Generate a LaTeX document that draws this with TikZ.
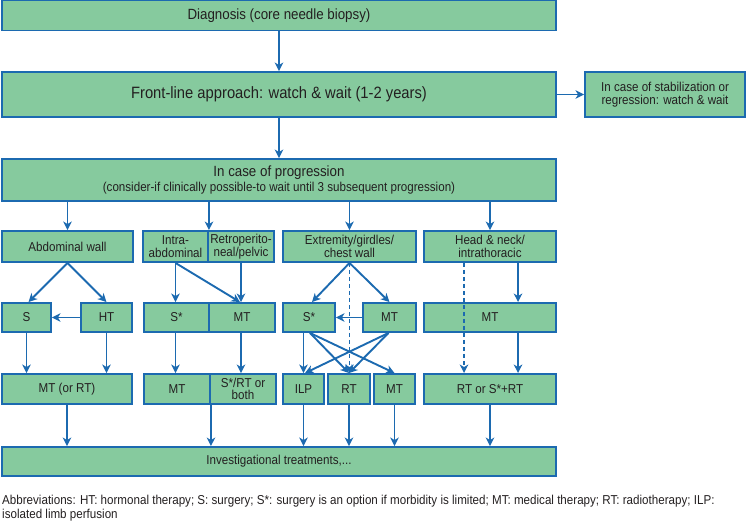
\documentclass[tikz,border=0pt]{standalone}
\usepackage{fontspec}
\setmainfont[FakeStretch=0.9]{Liberation Sans}
\usetikzlibrary{arrows.meta,calc}
\definecolor{boxgreen}{RGB}{134,202,158}
\definecolor{lineblue}{RGB}{28,106,176}
\definecolor{txt}{RGB}{35,31,32}
\begin{document}
\begin{tikzpicture}[x=1pt,y=-1pt,
  box/.style={draw=lineblue,fill=boxgreen,line width=1.9pt,inner sep=1pt,align=center,text=txt,font=\fontsize{12.9}{12.6}\selectfont},
  arr/.style={draw=lineblue,line width=1.9pt,-{Stealth[length=8.5pt,width=8.5pt,inset=2.5pt]}},
  darr/.style={arr,dash pattern=on 4pt off 3pt}]
\useasboundingbox (0,0) rectangle (749,520);
% row 0/1
\node[box,minimum width=554,minimum height=30,font=\fontsize{14.8}{15}\selectfont] (diag) at (279,15.5) {Diagnosis (core needle biopsy)};
\node[box,minimum width=554,minimum height=45,font=\fontsize{16.4}{17}\selectfont] (front) at (279,94.5) {Front-line approach: watch \& wait (1-2 years)};
\node[box,minimum width=160,minimum height=45,font=\fontsize{12.9}{13.3}\selectfont] (stab) at (665,94.5) {In case of stabilization or\\regression: watch \& wait};
\node[box,minimum width=554,minimum height=42] (prog) at (279,180) {{\fontsize{14.8}{15}\selectfont In case of progression}\\[2pt]{\fontsize{12.9}{14}\selectfont (consider-if clinically possible-to wait until 3 subsequent progression)}};
% row 2
\node[box,minimum width=131,minimum height=31] (abd) at (67.5,246.5) {Abdominal wall};
\node[box,minimum width=65,minimum height=31] (intra) at (175.5,246.5) {Intra-\\abdominal};
\node[box,minimum width=66,minimum height=31] (retro) at (241,246.5) {Retroperito-\\neal/pelvic};
\node[box,minimum width=133,minimum height=31] (ext) at (349.5,246.5) {Extremity/girdles/\\chest wall};
\node[box,minimum width=132,minimum height=31] (head) at (490,246.5) {Head \& neck/\\intrathoracic};
% row 3
\node[box,minimum width=49,minimum height=29] (s) at (26.5,317.5) {S};
\node[box,minimum width=51,minimum height=29] (ht) at (106.5,317.5) {HT};
\node[box,minimum width=65,minimum height=29] (sa) at (176.5,317.5) {S*};
\node[box,minimum width=66,minimum height=29] (mta) at (242,317.5) {MT};
\node[box,minimum width=52,minimum height=29] (se) at (309,317.5) {S*};
\node[box,minimum width=53,minimum height=29] (mte) at (389.5,317.5) {MT};
\node[box,minimum width=132,minimum height=29] (mth) at (490,317.5) {MT};
% row 4
\node[box,minimum width=130,minimum height=30] (mtor) at (67,389) {MT (or RT)};
\node[box,minimum width=66,minimum height=30] (mtb) at (177,389) {MT};
\node[box,minimum width=66,minimum height=30] (srt) at (243,389) {S*/RT or\\both};
\node[box,minimum width=41,minimum height=30] (ilp) at (303.5,389) {ILP};
\node[box,minimum width=42,minimum height=30] (rt) at (349,389) {RT};
\node[box,minimum width=41,minimum height=30] (mtx) at (394.5,389) {MT};
\node[box,minimum width=132,minimum height=30] (rts) at (490,389) {RT or S*+RT};
% row 5
\node[box,minimum width=554,minimum height=29] (inv) at (279,461.5) {Investigational treatments,...};
% abbreviations
\node[anchor=north west,align=left,inner sep=0pt,text=txt,font=\fontsize{12.9}{13.8}\selectfont] (abbr) at (2,495) {Abbreviations: HT: hormonal therapy; S: surgery; S*: surgery is an option if morbidity is limited; MT: medical therapy; RT: radiotherapy; ILP:\\isolated limb perfusion};
% connectors
\draw[arr] (diag.south) -- (front.north);
\draw[arr] (front.east) -- (stab.west);
\draw[arr] (front.south) -- (front.south |- prog.north);
\draw[arr] (abd.north |- prog.south) -- (abd.north);
\draw[arr] (intra.north east |- prog.south) -- (intra.north east);
\draw[arr] (ext.north |- prog.south) -- (ext.north);
\draw[arr] (head.north |- prog.south) -- (head.north);
% abdominal wall
\draw[arr] (abd.south) -- ($(s.north)+(2,0)$);
\draw[arr] (abd.south) -- (ht.north);
\draw[arr] (ht.west) -- (s.east);
\draw[arr] (s.south) -- (s.south |- mtor.north);
\draw[arr] (ht.south) -- (ht.south |- mtor.north);
% intra/retro
\draw[arr] (intra.south) -- (intra.south |- sa.north);
\draw[arr] (intra.south) -- ($(mta.north)+(-2,0)$);
\draw[arr] (retro.south) -- (retro.south |- mta.north);
\draw[arr] (intra.south |- sa.south) -- (intra.south |- mtb.north);
\draw[arr] (retro.south |- mta.south) -- (retro.south |- srt.north);
% extremity
\draw[arr] (ext.south) -- ($(se.north)+(3,0)$);
\draw[arr] (ext.south) -- (mte.north);
\draw[darr] (ext.south) -- (ext.south |- rt.north);
\draw[arr] (mte.west) -- (se.east);
\draw[arr] (ilp.north |- se.south) -- (ilp.north);
\draw[arr] ($(se.south)+(1,0)$) -- (rt.north);
\draw[arr] ($(se.south)+(1,0)$) -- (mtx.north);
\draw[arr] ($(mte.south)+(-1,0)$) -- ($(ilp.north)+(1.5,0)$);
\draw[arr] ($(mte.south)+(-1,0)$) -- (rt.north);
% head & neck
\coordinate (hd) at ($(head.south west)+(41,0)$);
\coordinate (hs) at ($(head.south west)+(95,0)$);
\draw[darr] (hd) -- (hd |- rts.north);
\draw[arr] (hs) -- (hs |- mth.north);
\draw[arr] (hs |- mth.south) -- (hs |- rts.north);
% to investigational
\draw[arr] (mtor.south) -- (mtor.south |- inv.north);
\draw[arr] (mtb.south east) -- (mtb.south east |- inv.north);
\draw[arr] (ilp.south) -- (ilp.south |- inv.north);
\draw[arr] (rt.south) -- (rt.south |- inv.north);
\draw[arr] (mtx.south) -- (mtx.south |- inv.north);
\draw[arr] (rts.south) -- (rts.south |- inv.north);
\end{tikzpicture}
\end{document}
